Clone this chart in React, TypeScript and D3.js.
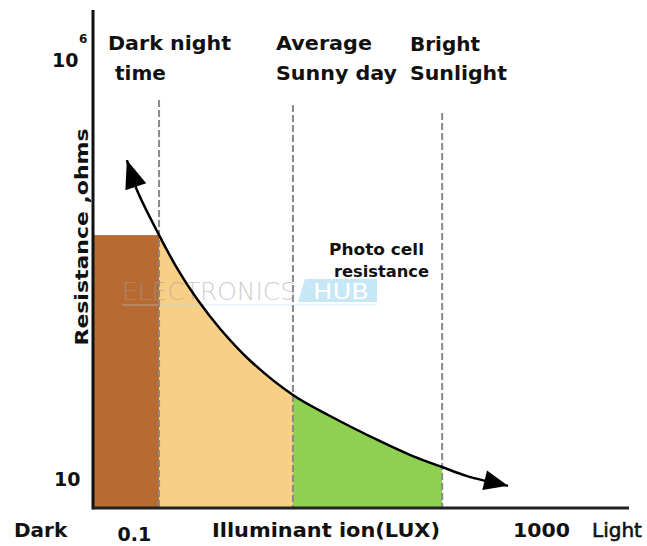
import React from "react";
import * as d3 from "d3";

// ---- data (approximate readings from the reference) ----
const curveLux = [0.086, 0.108, 0.178, 0.267, 0.42, 0.71, 1.39, 3.67, 8.5, 26, 55, 107, 188, 474];
const curveOhms = [64000, 28000, 8100, 3270, 1390, 610, 256, 99, 55.5, 27.9, 18.4, 13.6, 10.6, 8.1];

const zoneLux = [0.178, 3.67, 107]; // dark night, average sunny day, bright sunlight
const zoneTopOhms = [335000, 292000, 234000]; // top of dashed guides
const darkLevelOhms = 8100;

const xTickValues = [0.1, 1000];
const xTickLabels = ["0.1", "1000"];
const yTickValues = [10, 1000000];

const luxDomain = [0.04, 7300];
const ohmDomain = [4.4, 4000000];

const W = 647;
const H = 546;

export default function App() {
  const x = d3.scaleLog().domain(luxDomain).range([93, 629]);
  const y = d3.scaleLog().domain(ohmDomain).range([508, 10]);

  const pts: [number, number][] = curveLux.map((l, i) => [x(l), y(curveOhms[i])]);
  const smooth = d3.curveCatmullRom.alpha(0.5);
  const line = d3.line().curve(smooth)(pts) as string;

  const areaGen = d3
    .area<[number, number]>()
    .x((d) => d[0])
    .y0(y(ohmDomain[0]))
    .y1((d) => d[1])
    .curve(smooth);

  const tanPts = pts.filter((_, i) => curveLux[i] >= zoneLux[0] && curveLux[i] <= zoneLux[1]);
  const greenPts = pts.filter((_, i) => curveLux[i] >= zoneLux[1] && curveLux[i] <= zoneLux[2]);

  // arrowheads
  const p0 = pts[0];
  const p1 = pts[1];
  const pn = pts[pts.length - 1];
  const pm = pts[pts.length - 2];
  const head = (tip: [number, number], from: [number, number], len: number, wid: number) => {
    const dx = tip[0] - from[0];
    const dy = tip[1] - from[1];
    const L = Math.hypot(dx, dy);
    const ux = dx / L;
    const uy = dy / L;
    const bx = tip[0] - ux * len;
    const by = tip[1] - uy * len;
    return `M${tip[0]},${tip[1]}L${bx - uy * wid / 2},${by + ux * wid / 2}L${bx + uy * wid / 2},${by - ux * wid / 2}Z`;
  };

  const bold = { fontFamily: "'DejaVu Sans', sans-serif", fontWeight: 700, fill: "#111" } as const;

  const x0 = x(luxDomain[0]);
  const yb = y(ohmDomain[0]);

  return (
    <svg width={W} height={H} style={{ position: "absolute", left: 0, top: 0, background: "#fff" }}>
      {/* dark zone bar */}
      <rect x={x0} y={y(darkLevelOhms)} width={x(zoneLux[0]) - x0} height={yb - y(darkLevelOhms)} fill="#b76a31" />
      <path d={areaGen(tanPts) as string} fill="#f8cf86" />
      <path d={areaGen(greenPts) as string} fill="#8ed04f" />

      {/* watermark */}
      <g opacity={0.5}>
        <text x={122} y={300} fontFamily="'DejaVu Sans', sans-serif" fontWeight={200} fontSize={24} fill="#a0a0a0" textLength={174} lengthAdjust="spacingAndGlyphs">ELECTRONICS</text>
        <path d="M305,279 L377,279 L377,302 L298,302 Z" fill="#8fd0ef" />
        <text x={313} y={299} fontFamily="'DejaVu Sans', sans-serif" fontSize={22} fill="#fff" textLength={56} lengthAdjust="spacingAndGlyphs">HUB</text>
        <line x1={122} x2={377} y1={305} y2={305} stroke="#b8e0f2" strokeWidth={1} />
      </g>

      {/* dashed guides */}
      {zoneLux.map((l, i) => (
        <line key={i} x1={x(l)} x2={x(l)} y1={y(zoneTopOhms[i])} y2={yb} stroke="#8a8a8a" strokeWidth={2} strokeDasharray="7,3" />
      ))}

      {/* curve */}
      <path d={line} fill="none" stroke="#000" strokeWidth={2.5} />
      <path d={head(p0, p1, 28, 22)} fill="#000" />
      <path d={head(pn, pm, 24, 20)} fill="#000" />

      {/* axes */}
      <line x1={x0} x2={x0} y1={10} y2={yb + 1.5} stroke="#111" strokeWidth={3} />
      <line x1={x0} x2={629} y1={yb} y2={yb} stroke="#222" strokeWidth={3} />

      {/* y tick labels */}
      <text x={52} y={y(yTickValues[1]) + 7} fontSize={19} {...bold}>10</text>
      <text x={79} y={y(yTickValues[1]) - 17} fontSize={12} {...bold}>6</text>
      <text x={54} y={y(yTickValues[0]) + 8} fontSize={19} {...bold}>10</text>

      {/* y title */}
      <text transform="translate(88,237) rotate(-90)" textAnchor="middle" fontSize={18} textLength={217} lengthAdjust="spacingAndGlyphs" {...bold}>Resistance ,ohms</text>

      {/* zone labels */}
      <text x={108} y={50} fontSize={20} textLength={123} lengthAdjust="spacingAndGlyphs" {...bold}>Dark night</text>
      <text x={115} y={80} fontSize={20} {...bold}>time</text>
      <text x={276} y={50} fontSize={20} textLength={96} lengthAdjust="spacingAndGlyphs" {...bold}>Average</text>
      <text x={276} y={80} fontSize={20} textLength={121} lengthAdjust="spacingAndGlyphs" {...bold}>Sunny day</text>
      <text x={410} y={51} fontSize={20} {...bold}>Bright</text>
      <text x={410} y={80} fontSize={20} textLength={97} lengthAdjust="spacingAndGlyphs" {...bold}>Sunlight</text>

      <text x={329} y={255} fontSize={16} textLength={95} lengthAdjust="spacingAndGlyphs" {...bold}>Photo cell</text>
      <text x={334} y={277} fontSize={16} textLength={95} lengthAdjust="spacingAndGlyphs" {...bold}>resistance</text>

      {/* x labels */}
      <text x={14} y={537} fontSize={20} {...bold}>Dark</text>
      <text x={x(xTickValues[0]) - 16} y={541} fontSize={19} {...bold}>{xTickLabels[0]}</text>
      <text x={212} y={537} fontSize={20} textLength={228} lengthAdjust="spacingAndGlyphs" {...bold}>Illuminant ion(LUX)</text>
      <text x={x(xTickValues[1]) - 28} y={537} fontSize={20} textLength={57} lengthAdjust="spacingAndGlyphs" {...bold}>{xTickLabels[1]}</text>
      <text x={592} y={537} fontSize={20} fontFamily="'DejaVu Sans', sans-serif" fill="#111" stroke="#111" strokeWidth={0.6}>Light</text>
    </svg>
  );
}
